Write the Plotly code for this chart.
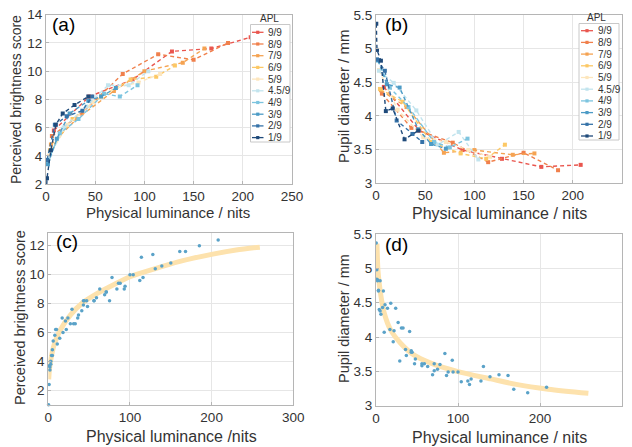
import plotly.graph_objects as go

W, H = 632, 447

# APL series (legend order, top to bottom)
apl_labels = ['9/9', '8/9', '7/9', '6/9', '5/9', '4.5/9', '4/9', '3/9', '2/9', '1/9']
apl_colors = ['#e9564e', '#f0804c', '#f5a352', '#fcc865', '#fde6bd',
              '#c2e4ee', '#7cc4df', '#4c9bc6', '#3572a8', '#1f4a7a']

# physical luminance (nits) per APL series
luminance = [
    [8, 44, 88, 128, 168, 208],
    [6, 36, 78, 114, 150, 185],
    [5, 31, 69, 100, 139, 161],
    [4, 27, 56, 86, 112, 131],
    [3, 22, 48, 71, 94, 116],
    [3, 18, 41, 63, 84, 104],
    [2, 14, 33, 59, 75, 93],
    [2, 11, 24, 43, 56, 71],
    [1, 9, 21, 37, 47],
    [0.3, 1, 5, 10, 17, 29, 43],
]
# perceived brightness score per APL series
brightness = [
    [5.8, 8.2, 9.4, 11.4, 11.6, 12.4],
    [5.4, 7.0, 9.8, 11.2, 10.8, 12.0],
    [4.8, 6.6, 8.6, 10.0, 10.6, 11.6],
    [4.4, 6.6, 8.2, 9.4, 9.6, 10.4],
    [4.0, 6.2, 7.8, 8.8, 9.2, 9.8],
    [3.8, 6.0, 7.5, 9.0, 9.0, 10.0],
    [3.6, 5.6, 6.6, 8.4, 8.2, 9.0],
    [3.4, 5.2, 7.0, 7.9, 8.2, 8.8],
    [3.7, 6.2, 6.8, 7.2, 8.2],
    [1.0, 2.4, 4.4, 6.2, 7.0, 7.6, 8.2],
]
# pupil diameter (mm) per APL series
pupil = [
    [4.43, 3.78, 3.49, 3.36, 3.24, 3.27],
    [4.33, 3.82, 3.60, 3.31, 3.45, 3.19],
    [4.38, 4.13, 3.45, 3.49, 3.42, 3.44],
    [4.40, 4.21, 3.61, 3.44, 3.36, 3.57],
    [4.68, 4.09, 3.68, 3.61, 3.49, 3.39],
    [4.67, 4.49, 4.08, 3.57, 3.76, 3.35],
    [4.82, 4.42, 4.13, 3.61, 3.53, 3.66],
    [4.83, 4.47, 4.42, 3.80, 3.58, 3.51],
    [4.84, 4.67, 3.93, 3.73, 3.61],
    [5.37, 4.98, 4.82, 4.07, 4.11, 3.65, 3.78],
]

# fitted curves
fit_c_x = [0.5, 1.5, 4, 8, 15, 27, 42, 60, 80, 100, 130, 160, 200, 230, 259]
fit_c_y = [2.75, 3.5, 4.4, 5.3, 6.2, 7.2, 8.05, 8.7, 9.3, 9.85, 10.4, 10.9, 11.4, 11.7, 11.9]
fit_d_x = [1.2, 2.4, 5, 10, 18, 30, 46, 67, 99, 140, 171, 210, 259]
fit_d_y = [5.36, 4.97, 4.68, 4.35, 4.1, 3.91, 3.74, 3.62, 3.50, 3.39, 3.31, 3.24, 3.18]

FONT = 'Arial, Liberation Sans, sans-serif'


def fx(p):
    return p / W


def fy(p):
    return 1 - p / H


fig = go.Figure()

# (a) and (b): dashed lines per APL
for lab, col, lx, bs, pp in zip(apl_labels, apl_colors, luminance, brightness, pupil):
    for ya, yv in (('y', bs), ('y2', pp)):
        fig.add_trace(go.Scatter(
            x=lx, y=yv, xaxis=ya.replace('y', 'x'), yaxis=ya, name=lab,
            mode='lines+markers', showlegend=False,
            line=dict(color=col, width=1.4, dash='4px,3px'),
            marker=dict(symbol='square', size=4, color=col)))

all_x = [v for s in luminance for v in s]
all_b = [v for s in brightness for v in s]
all_p = [v for s in pupil for v in s]

# (c) and (d): fit + pooled points
fig.add_trace(go.Scatter(x=fit_c_x, y=fit_c_y, xaxis='x3', yaxis='y3', mode='lines',
                         line=dict(color='#fde2ad', width=5, shape='spline', smoothing=0.8),
                         showlegend=False))
fig.add_trace(go.Scatter(x=all_x, y=all_b, xaxis='x3', yaxis='y3', mode='markers',
                         marker=dict(size=3.5, color='#5aa2c8'), showlegend=False, cliponaxis=False))
fig.add_trace(go.Scatter(x=fit_d_x, y=fit_d_y, xaxis='x4', yaxis='y4', mode='lines',
                         line=dict(color='#fde2ad', width=5, shape='spline', smoothing=0.8),
                         showlegend=False))
fig.add_trace(go.Scatter(x=all_x, y=all_p, xaxis='x4', yaxis='y4', mode='markers',
                         marker=dict(size=3.5, color='#5aa2c8'), showlegend=False))


def axis(domain, rng, dtick, anchor):
    return dict(domain=domain, range=rng, dtick=dtick, anchor=anchor,
                showgrid=True, gridcolor='#e6e6e6', zeroline=False,
                showline=True, linecolor='#b5b5b5', linewidth=1, mirror=True,
                ticks='inside', ticklen=3, tickcolor='#b5b5b5',
                tickfont=dict(family=FONT, size=13.5, color='#333333'),
                automargin=False)


fig.update_layout(
    width=W, height=H, margin=dict(l=0, r=0, t=0, b=0),
    paper_bgcolor='white', plot_bgcolor='white',
    xaxis=axis([fx(46), fx(292)], [0, 250], 50, 'y'),
    yaxis=axis([fy(184), fy(14.7)], [2, 14], 2, 'x'),
    xaxis2=axis([fx(376), fx(622)], [0, 250], 50, 'y2'),
    yaxis2=axis([fy(183), fy(15)], [3, 5.5], 0.5, 'x2'),
    xaxis3=axis([fx(48.3), fx(293.3)], [0, 300], 100, 'y3'),
    yaxis3=axis([fy(404.7), fy(233.3)], [1, 12.86], 2, 'x3'),
    xaxis4=axis([fx(376), fx(622)], [0, 300], 100, 'y4'),
    yaxis4=axis([fy(405.7), fy(234)], [3, 5.5], 0.5, 'x4'),
)
fig.update_yaxes(tick0=0)

ann = []
shapes = []


def text(x, y, s, size, color='#333333', angle=0, xanchor='center'):
    ann.append(dict(x=fx(x), y=fy(y), xref='paper', yref='paper', text=s, showarrow=False,
                    textangle=angle, xanchor=xanchor, yanchor='middle',
                    font=dict(family=FONT, size=size, color=color)))


# axis titles
text(168, 212, 'Physical luminance / nits', 15)
text(16, 100, 'Perceived brightness score', 14, angle=-90)
text(499, 213, 'Physical luminance / nits', 16)
text(344, 97, 'Pupil diameter / mm', 15, angle=-90)
text(171, 436, 'Physical luminance /nits', 16)
text(20, 318, 'Perceived brightness score', 14.5, angle=-90)
text(499, 437, 'Physical luminance / nits', 16)
text(344, 319, 'Pupil diameter / mm', 14.5, angle=-90)

# panel labels
text(63.5, 24, '(a)', 19, color='black')
text(396.5, 24, '(b)', 19, color='black')
text(66.5, 242, '(c)', 19, color='black')
text(396.5, 244, '(d)', 19, color='black')


def legend(bx0, bx1, by0, by1, title_x, title_y, first_y, step, lx0, lx1, tx):
    shapes.append(dict(type='rect', xref='paper', yref='paper', x0=fx(bx0), x1=fx(bx1),
                       y0=fy(by1), y1=fy(by0), line=dict(color='#c8c8c8', width=1),
                       fillcolor='white', layer='above'))
    text(title_x, title_y, 'APL', 10)
    for i, (lab, col) in enumerate(zip(apl_labels, apl_colors)):
        y = first_y + i * step
        shapes.append(dict(type='line', xref='paper', yref='paper', x0=fx(lx0), x1=fx(lx1),
                           y0=fy(y), y1=fy(y), line=dict(color=col, width=1.3), layer='above'))
        mx = (lx0 + lx1) / 2
        shapes.append(dict(type='rect', xref='paper', yref='paper', x0=fx(mx - 1.6), x1=fx(mx + 1.6),
                           y0=fy(y + 1.6), y1=fy(y - 1.6), line=dict(width=0),
                           fillcolor=col, layer='above'))
        text(tx, y, lab, 10, xanchor='left')


legend(250.5, 290, 24.5, 142, 269.5, 19, 32.3, 11.7, 252, 263.5, 266)
legend(579, 619, 23.5, 140, 596, 17.5, 30.7, 11.7, 581, 593, 596)

fig.update_layout(annotations=ann, shapes=shapes)

fig.write_html("out.html", config={'displayModeBar': False},
               post_script="document.body.style.margin='0';")
